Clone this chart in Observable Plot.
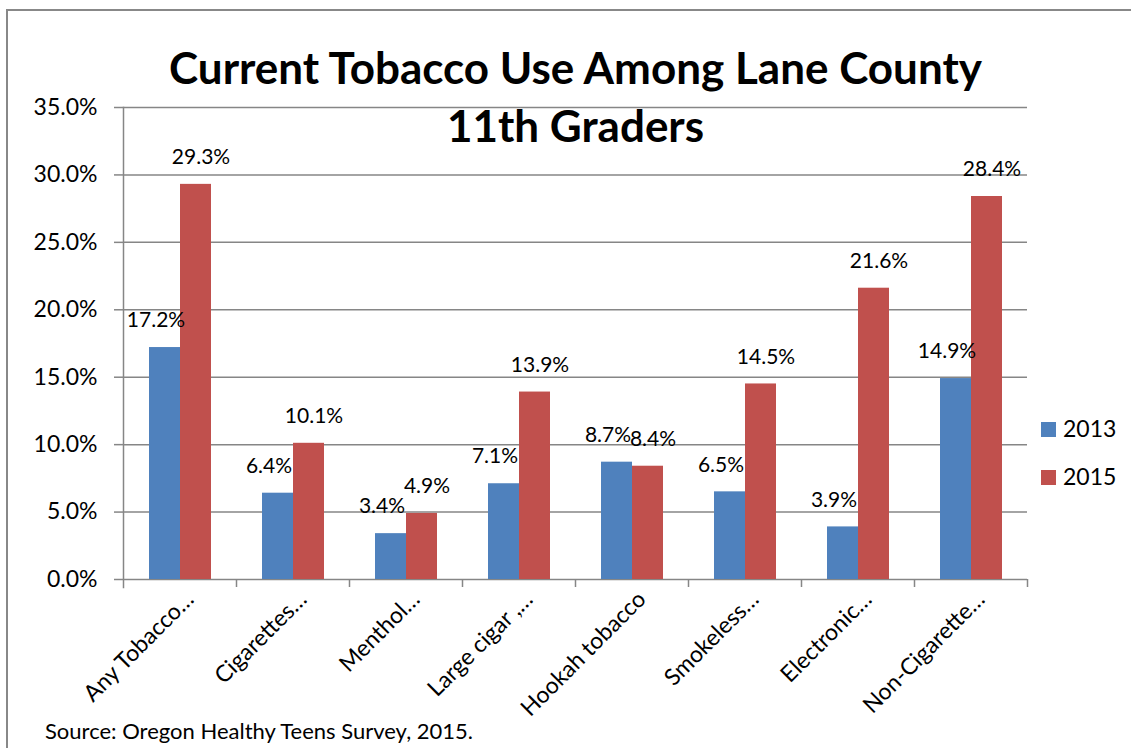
<!DOCTYPE html>
<html><head><meta charset="utf-8">
<script src="https://cdn.jsdelivr.net/npm/d3@7"></script>
<script src="https://cdn.jsdelivr.net/npm/@observablehq/plot@0.6"></script>
<style>
body{margin:0;background:#fff;}
#wrap{position:relative;width:1131px;height:748px;overflow:hidden;font-family:Lato,"Open Sans",sans-serif;color:#000;}
#frame{position:absolute;left:6px;top:9px;width:1300px;height:900px;border:2px solid #888;box-sizing:border-box;}
#chart{position:absolute;left:0;top:0;}
#title{position:absolute;left:10px;width:1131px;top:38px;text-align:center;font-weight:bold;font-size:44px;line-height:58px;}
#source{position:absolute;left:45px;top:718px;font-size:22px;line-height:26px;}
.leg{position:absolute;left:1041px;font-size:23px;line-height:23px;}
.leg span{display:inline-block;width:15px;height:15px;margin-right:7px;vertical-align:0px;}
</style></head>
<body>
<div id="wrap">
  <div id="frame"></div>
  <div id="chart"></div>
  <div id="title">Current Tobacco Use Among Lane County<br>11th Graders</div>
  <div id="legend"></div>
  <div id="source">Source: Oregon Healthy Teens Survey, 2015.</div>
</div>
<script>
const categories = ["Any Tobacco…","Cigarettes…","Menthol…","Large cigar ,…","Hookah tobacco","Smokeless…","Electronic…","Non-Cigarette…"];
const years = ["2013","2015"];
const values2013 = [17.2, 6.4, 3.4, 7.1, 8.7, 6.5, 3.9, 14.9];
const values2015 = [29.3, 10.1, 4.9, 13.9, 8.4, 14.5, 21.6, 28.4];
const colors = ["#4F81BD","#C0504D"];
const yTicks = [0,5,10,15,20,25,30,35];

const rows = [];
categories.forEach((c,i)=>{
  rows.push({cat:c, year:years[0], value:values2013[i]});
  rows.push({cat:c, year:years[1], value:values2015[i]});
});
const gray = "#868686";
const fmt = v => v.toFixed(1) + "%";

const chart = Plot.plot({
  width: 1131, height: 748,
  marginLeft: 123, marginRight: 104, marginTop: 107, marginBottom: 169,
  style: {fontFamily: "Lato, 'Open Sans', sans-serif", fontSize: "23px", color: "#000", background: "transparent"},
  fx: {domain: categories, paddingInner: 0, paddingOuter: 0, label: null},
  x: {domain: years, paddingInner: 0, paddingOuter: 0.766, axis: null},
  y: {domain: [0, 35], label: null},
  color: {domain: years, range: colors},
  marks: [
    Plot.gridY(yTicks.filter(d=>d>0), {stroke: gray, strokeOpacity: 1, strokeWidth: 1.5}),
    Plot.ruleY([0], {stroke: gray, strokeWidth: 1.5}),
    Plot.frame({anchor: "left", facet: "super", stroke: gray, strokeWidth: 1.5, insetBottom: -8}),
    Plot.axisY({ticks: yTicks, tickFormat: fmt, tickSize: 9, tickPadding: 17, stroke: gray, strokeWidth: 1.5, label: null, fontSize: 23}),
    Plot.axisFx({anchor: "bottom", tickSize: 8, tickFormat: () => "", dx: 56.5, stroke: gray, strokeWidth: 1.5, label: null}),
    Plot.axisFx({anchor: "bottom", tickSize: 0, tickPadding: 16, tickRotate: -45, dx: 10, label: null, fontSize: 23}),
    Plot.barY(rows, {fx: "cat", x: "year", y: "value", fill: "year"}),
    Plot.text(rows.filter(d => d.year === years[0]), {fx: "cat", x: "year", y: "value", text: d => fmt(d.value), dy: -27, dx: -9, fontSize: 21, fill: "#000"}),
    Plot.text(rows.filter(d => d.year === years[1]), {fx: "cat", x: "year", y: "value", text: d => fmt(d.value), dy: -27, dx: 5, fontSize: 21, fill: "#000"})
  ]
});
document.getElementById("chart").appendChild(chart);

const leg = document.getElementById("legend");
years.forEach((y,i)=>{
  const d = document.createElement("div");
  d.className = "leg";
  d.style.top = (417 + i*48) + "px";
  d.innerHTML = `<span style="background:${colors[i]}"></span>${y}`;
  leg.appendChild(d);
});
</script>
</body></html>
